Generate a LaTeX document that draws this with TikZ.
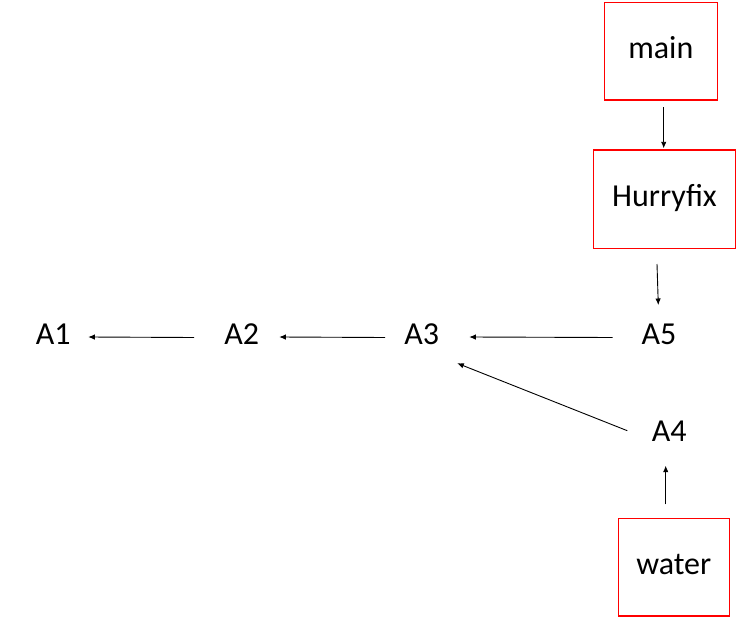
\documentclass[tikz,border=0pt]{standalone}
\usepackage{fontspec}
\setmainfont{Carlito}
\usetikzlibrary{calc,arrows.meta}
\begin{document}
\begin{tikzpicture}[x=1pt,y=-1pt,
  txt/.style={font=\fontsize{32}{38}\selectfont, inner sep=0pt, text height=22.4pt, text depth=8pt, anchor=center},
  redbox/.style={txt, draw=red, line width=1.3pt},
  arr/.style={draw=black, line width=0.9pt, -{Latex[length=6.5pt,width=5.5pt]}}]
\useasboundingbox (0,0) rectangle (756,629);
\node[redbox, minimum width=113pt, minimum height=97.3pt] (main) at (660.8,51.3) {main};
\node[redbox, minimum width=142.4pt, minimum height=98.3pt] (hurry) at (664.5,199.2) {Hurryfix};
\node[redbox, minimum width=111pt, minimum height=97.7pt] (water) at (673.8,567.2) {water};
\node[txt] (A1) at (53.3,337) {A1};
\node[txt] (A2) at (241.7,337) {A2};
\node[txt] (A3) at (421.7,337) {A3};
\node[txt] (A5) at (659,337) {A5};
\node[txt] (A4) at (669.2,434.5) {A4};
\draw[arr] ($(main)+(2.9,56)$) -- ($(hurry)+(-0.8,-50.9)$);
\draw[arr] ($(hurry)+(-7.5,64.8)$) -- ($(A5)+(-0.7,-32)$);
\draw[arr] ($(A5)+(-46.3,0.5)$) -- ($(A3)+(47.6,0)$);
\draw[arr] ($(A3)+(-36.7,0.5)$) -- ($(A2)+(37.6,0)$);
\draw[arr] ($(A2)+(-47.7,0.5)$) -- ($(A1)+(35,0)$);
\draw[arr] ($(A4)+(-41.9,-3.8)$) -- ($(A3)+(35.6,26.3)$);
\draw[arr] ($(water)+(-8.1,-62.9)$) -- ($(A4)+(-3.5,31.2)$);
\end{tikzpicture}
\end{document}
